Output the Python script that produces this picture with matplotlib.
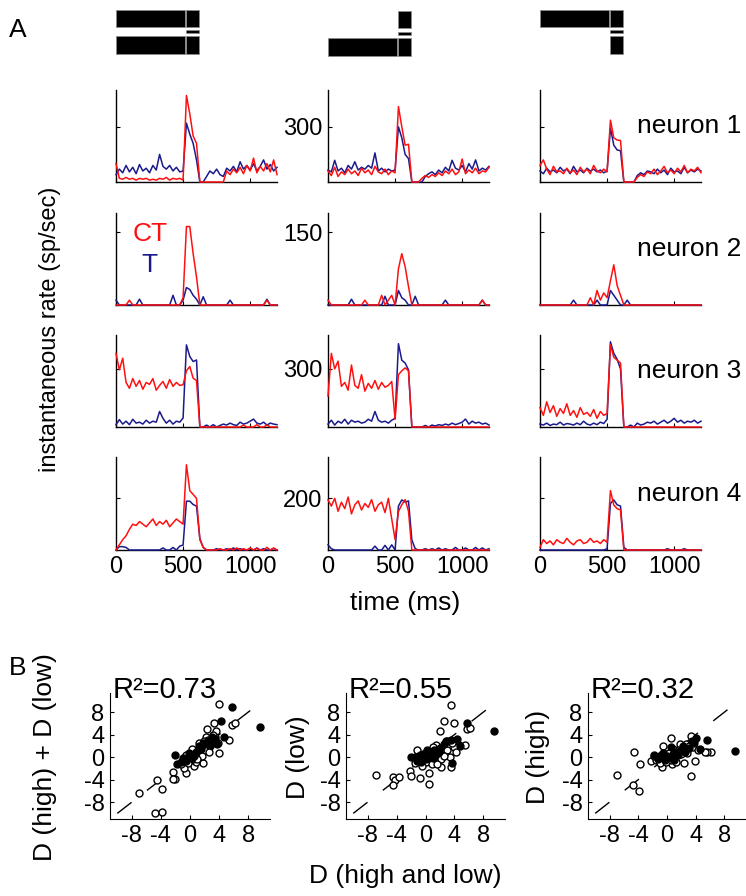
import matplotlib
matplotlib.use("Agg")
import matplotlib.pyplot as plt
import numpy as np
from matplotlib.patches import Rectangle

plt.rcParams['font.family'] = ['Liberation Sans', 'DejaVu Sans']
plt.rcParams['axes.unicode_minus'] = False

# ---- data ----
time_ms = np.arange(0, 1201, 25)

# neuron 1 (CT = red, T = blue), columns 1..3
n1_ct_c1 = [100, 20, 15, 25, 15, 20, 10, 20, 15, 20, 10, 15, 10, 20, 15, 25, 10, 20, 15, 20, 10,
            470, 370, 250, 210, 0, 0, 0, 0, 0, 0, 0, 0,
            60, 40, 70, 50, 80, 45, 90, 60, 130, 50, 85, 60, 100, 55, 120, 40]
n1_t_c1 = [40, 70, 50, 90, 55, 80, 45, 95, 60, 75, 50, 90, 65, 150, 85, 70, 90, 60, 80, 55, 60,
           320, 260, 210, 120, 0, 0, 30, 60, 45, 70, 40, 30,
           75, 60, 85, 55, 110, 70, 90, 65, 100, 60, 85, 120, 70, 95, 60, 80]
n1_ct_c2 = [60, 35, 80, 30, 55, 40, 70, 45, 60, 35, 75, 50, 65, 40, 85, 55, 45, 70, 40, 60, 50,
            410, 300, 200, 205, 0, 0, 0, 20, 35, 25, 40, 30,
            50, 35, 60, 45, 70, 40, 55, 125, 45, 65, 50, 75, 45, 60, 55, 80]
n1_t_c2 = [65, 55, 118, 60, 75, 50, 90, 70, 110, 65, 80, 70, 90, 75, 158, 60, 75, 55, 70, 60, 65,
           300, 240, 150, 127, 0, 0, 0, 0, 30, 45, 55, 40,
           65, 50, 80, 60, 118, 75, 65, 90, 55, 100, 70, 120, 60, 75, 65, 85]
n1_ct_c3 = [90, 120, 70, 40, 85, 55, 60, 45, 75, 50, 65, 40, 80, 55, 70, 45, 90, 60, 50, 70, 55,
            336, 240, 228, 225, 0, 0, 0, 0, 25, 40, 30, 55,
            45, 70, 40, 60, 85, 50, 65, 45, 75, 55, 90, 50, 70, 60, 80, 50]
n1_t_c3 = [60, 45, 75, 55, 65, 50, 80, 60, 70, 45, 85, 55, 65, 50, 75, 60, 70, 55, 65, 50, 60,
           293, 200, 174, 170, 0, 0, 0, 0, 35, 50, 40, 60,
           55, 45, 70, 50, 65, 40, 75, 55, 60, 45, 80, 50, 65, 55, 70, 60]

# neuron 2
n2_ct_c1 = [0, 0, 0, 0, 10, 0, 0, 0, 0, 0, 0, 0, 0, 0, 0, 0, 0, 0, 0, 0, 15,
            162, 162, 106, 58, 0, 0, 0, 0, 0, 0, 0, 0,
            0, 0, 0, 0, 0, 0, 0, 0, 0, 0, 0, 0, 10, 0, 0, 0]
n2_t_c1 = [10, 0, 0, 0, 0, 0, 0, 12, 0, 0, 0, 0, 0, 0, 0, 0, 0, 20, 0, 0, 10,
           36, 32, 20, 12, 0, 17, 0, 0, 0, 0, 0, 0,
           0, 10, 0, 0, 0, 0, 0, 0, 0, 0, 0, 0, 12, 0, 0, 0]
n2_ct_c2 = [10, 0, 0, 0, 0, 0, 0, 0, 0, 0, 0, 10, 0, 0, 0, 0, 20, 0, 10, 20, 0,
            75, 106, 79, 38, 0, 0, 0, 0, 0, 0, 0, 0,
            0, 0, 0, 0, 0, 0, 0, 0, 0, 0, 0, 0, 0, 10, 0, 0]
n2_t_c2 = [0, 0, 0, 0, 0, 0, 0, 12, 0, 0, 0, 0, 0, 0, 0, 0, 0, 18, 0, 0, 0,
           30, 15, 10, 0, 0, 18, 0, 0, 0, 0, 0, 0,
           0, 0, 10, 0, 0, 0, 0, 0, 0, 0, 0, 0, 0, 10, 0, 0]
n2_ct_c3 = [0, 0, 0, 0, 0, 0, 0, 0, 0, 0, 0, 0, 0, 0, 0, 15, 0, 30, 10, 25, 15,
            50, 83, 40, 20, 0, 0, 0, 0, 0, 0, 0, 0,
            0, 0, 0, 0, 0, 0, 0, 0, 0, 0, 0, 0, 0, 0, 0, 0]
n2_t_c3 = [0, 0, 0, 0, 0, 0, 0, 0, 0, 0, 10, 0, 0, 0, 0, 0, 0, 10, 0, 0, 0,
           30, 20, 10, 0, 0, 10, 0, 0, 0, 0, 0, 0,
           0, 0, 0, 0, 0, 0, 0, 0, 0, 0, 0, 0, 0, 0, 0, 0]

# neuron 3
n3_ct_c1 = [380, 295, 355, 230, 200, 250, 210, 240, 195, 230, 220, 250, 190, 215, 235, 200, 245, 210, 230, 215, 218,
            290, 312, 252, 240, 0, 0, 0, 0, 0, 0, 0, 0,
            0, 0, 0, 0, 0, 10, 0, 0, 0, 12, 0, 0, 10, 0, 0, 0]
n3_t_c1 = [12, 38, 15, 30, 12, 40, 20, 25, 15, 35, 20, 30, 25, 80, 45, 20, 35, 15, 30, 25, 46,
           424, 364, 338, 346, 0, 0, 10, 0, 12, 0, 8, 15,
           10, 20, 12, 8, 25, 15, 20, 30, 41, 20, 15, 25, 10, 20, 15, 12]
n3_ct_c2 = [160, 380, 300, 340, 210, 230, 190, 320, 215, 200, 270, 185, 225, 200, 240, 195, 230, 205, 215, 235, 40,
            270, 290, 305, 290, 0, 0, 0, 0, 0, 0, 0, 0,
            0, 0, 0, 0, 0, 0, 0, 0, 0, 0, 0, 0, 0, 0, 0, 0]
n3_t_c2 = [15, 35, 10, 30, 20, 40, 15, 35, 25, 30, 20, 25, 40, 30, 80, 35, 25, 30, 20, 35, 45,
           430, 345, 330, 295, 0, 0, 0, 0, 8, 0, 10, 5,
           12, 8, 15, 10, 20, 12, 18, 25, 41, 15, 30, 20, 25, 15, 20, 10]
n3_ct_c3 = [100, 60, 130, 75, 110, 55, 95, 70, 120, 60, 85, 50, 100, 65, 75, 55, 90, 45, 80, 60, 70,
            425, 360, 345, 330, 0, 0, 0, 0, 0, 0, 0, 0,
            0, 0, 0, 0, 0, 0, 0, 0, 0, 0, 0, 0, 0, 0, 0, 0]
n3_t_c3 = [15, 10, 20, 8, 15, 12, 25, 10, 18, 15, 10, 20, 12, 30, 15, 10, 20, 12, 25, 18, 40,
           440, 380, 350, 300, 0, 0, 10, 0, 20, 10, 15, 25,
           20, 30, 15, 25, 35, 20, 30, 45, 25, 35, 20, 30, 25, 35, 20, 30]

# neuron 4
n4_ct_c1 = [0, 20, 40, 55, 80, 100, 95, 110, 100, 90, 105, 120, 95, 110, 100, 115, 90, 105, 120, 110, 100,
            330, 230, 215, 200, 40, 10, 0, 0, 0, 0, 5, 0,
            0, 5, 0, 8, 0, 5, 0, 8, 0, 6, 0, 0, 10, 0, 8, 0]
n4_t_c1 = [0, 13, 13, 10, 0, 0, 0, 0, 0, 0, 0, 0, 0, 0, 8, 0, 0, 10, 0, 15, 19,
           189, 189, 176, 170, 44, 10, 0, 0, 0, 5, 0, 0,
           5, 0, 8, 0, 5, 0, 0, 6, 0, 8, 0, 5, 0, 0, 6, 0]
n4_ct_c2 = [194, 170, 200, 150, 185, 160, 205, 140, 175, 190, 155, 180, 165, 195, 150, 175, 185, 145, 200, 120, 40,
            149, 175, 195, 150, 0, 0, 0, 0, 0, 0, 0, 0,
            0, 0, 0, 0, 0, 0, 0, 0, 0, 0, 0, 0, 0, 0, 0, 0]
n4_t_c2 = [20, 5, 0, 0, 0, 0, 0, 0, 0, 0, 0, 0, 0, 0, 15, 0, 0, 18, 0, 20, 0,
           170, 194, 185, 190, 39, 5, 0, 0, 5, 0, 5, 0,
           8, 0, 5, 0, 0, 10, 0, 0, 8, 0, 0, 10, 0, 8, 0, 5]
n4_ct_c3 = [10, 40, 25, 35, 20, 40, 30, 25, 45, 30, 20, 35, 40, 25, 30, 45, 30, 35, 25, 40, 30,
            230, 174, 160, 155, 0, 0, 0, 0, 0, 0, 0, 0,
            0, 0, 0, 0, 0, 0, 0, 0, 0, 0, 0, 0, 0, 0, 0, 0]
n4_t_c3 = [0, 0, 0, 0, 0, 0, 0, 0, 0, 0, 0, 0, 0, 0, 0, 0, 0, 0, 0, 0, 5,
           180, 194, 175, 170, 10, 0, 0, 0, 0, 0, 0, 0,
           0, 0, 0, 0, 0, 5, 0, 0, 0, 0, 5, 0, 0, 0, 0, 0]

neuron_names = ["neuron 1", "neuron 2", "neuron 3", "neuron 4"]
row_ymax = [500, 190, 475, 360]
row_ytick = [300, 150, 300, 200]
time_ticks = [0, 500, 1000]

# stimulus timing (ms) for the icons above the columns
stim_long = (0, 515)
stim_short = (522, 615)
# (top row parts, bottom row parts) per column
stim_layout = [(("long", "short"), ("long", "short")),
               (("short",), ("long", "short")),
               (("long", "short"), ("short",))]

# panel B scatter data (open and filled circles)
b1_open_x = [3.95, 5.8, 6.2, 3.3, 2.4, 3.6, 5.3, 4.0, -4.8, -3.9, -7.0, -4.6, -3.9, -2.3, -2.0, -2.3, -0.6, 1.8, 0.6, -0.8,
             -1.0, -0.5, 0.0, 0.5, 1.0, 1.5, 2.0, 2.5, 3.0, 3.5, 2.8, 1.2, 0.8, -0.3, 1.6, 2.2, 3.2, 0.3, -1.3, 2.6, 1.9, 0.4, 3.8, 1.0]
b1_open_y = [9.5, 5.8, 6.0, 6.0, 5.0, 4.7, 3.0, 0.7, -9.9, -9.8, -6.3, -4.1, -5.6, -2.7, -3.8, -3.8, -2.8, -1.1, -1.5, -1.9,
             -0.5, 0.3, -0.2, 0.8, 0.5, 1.8, 1.2, 2.5, 3.0, 3.5, 2.0, 2.5, -0.8, -1.0, 0.2, 3.6, 4.0, 1.5, -1.2, 1.0, 2.9, -0.3, 2.6, -0.4]
b1_fill_x = [5.8, 9.6, 4.3, 4.7, 3.7, -2.1, -1.8, -1.0, -0.5, 0.0, 0.3, 0.8, 1.2, 1.5, 2.0, 2.5, 3.0, -0.2, 0.6, 1.8, 3.4, -1.3, 2.7]
b1_fill_y = [8.9, 5.4, 6.4, 3.5, 2.3, 0.4, -1.2, -0.2, -0.6, 0.3, -0.1, 1.0, 2.0, 1.4, 2.3, 3.0, 3.6, 0.8, 0.2, 2.6, 3.3, -0.8, 2.2]

b2_open_x = [3.5, 2.5, 3.9, 5.8, 6.2, 2.0, -6.8, -4.5, -4.2, -4.5, -3.6, -2.2, -2.0, -0.8, 0.5, 0.5, 2.1, 3.4, 3.5, 5.4, 4.6, 3.9, -1.2,
             -1.5, -0.8, 0.0, 0.6, 1.2, 1.8, 2.4, 2.9, 1.5, -0.2, 0.9, 2.2, 3.0, -0.5, 1.0, 2.6, 0.2, 4.2, 1.6, 3.6]
b2_open_y = [9.3, 6.4, 6.1, 5.0, 5.1, 4.6, -3.1, -3.6, -4.1, -5.0, -3.6, -2.4, -3.4, -3.7, -2.8, -4.7, -1.7, 0.0, -1.8, 2.2, 2.2, 1.8, 1.3,
             -1.0, -0.5, -0.8, 0.8, -0.5, 0.8, 1.5, 2.8, 2.2, 0.6, -1.2, -0.3, 1.2, -1.6, 1.8, 0.2, 0.0, 1.0, -1.3, 2.6]
b2_fill_x = [5.7, 9.5, 4.3, 3.5, 3.0, 3.6, -2.0, -1.5, -0.8, -0.3, 0.2, 0.5, 0.8, 1.2, 1.5, 2.0, 2.5, 0.0, -0.6, 1.0, 4.8, -1.2, 1.8]
b2_fill_y = [6.0, 4.6, 3.3, 3.0, 2.8, -1.1, 0.0, 0.0, 0.3, 0.5, 1.2, 0.6, 0.2, 1.3, 0.5, 1.6, 2.3, -0.3, -0.8, -0.2, 2.0, -0.6, 1.0]

b3_open_x = [-4.6, -3.8, -7.0, -4.8, -3.9, 0.5, 3.3, 3.9, 2.4, 0.7, -0.7, -2.2, 3.4, 6.1, 5.6, 5.3, -0.5, 1.8, 2.6,
             -1.5, -1.0, -0.5, 0.0, 0.5, 1.0, 1.5, 2.0, 2.5, 3.0, 1.2, -0.2, 0.8, 2.8, 3.6, -1.8, 0.3, 4.3]
b3_open_y = [1.0, -1.2, -3.1, -4.9, -6.0, 3.4, -3.3, -0.6, -1.1, -1.2, -1.8, -0.6, 3.8, 1.0, 1.0, 1.0, 2.0, 2.3, 2.4,
             -0.5, -1.0, 0.0, 0.5, -0.5, 0.2, 1.2, 0.5, 1.5, 2.0, -0.8, -0.8, 1.5, 0.8, 1.8, 0.2, 0.8, 1.2]
b3_fill_x = [9.5, 5.6, 4.1, 4.6, 3.5, -1.8, -1.2, -0.8, -0.3, 0.0, 0.4, 0.8, 1.2, 1.6, 2.0, 2.5, 3.0, -0.5, 1.0, 2.2, 0.6, 3.8]
b3_fill_y = [1.1, 3.1, 3.4, 1.5, 2.8, 0.3, -0.3, 0.3, -0.5, 0.2, 0.0, 0.6, 1.0, 0.4, 1.3, 1.0, 1.6, 0.8, -0.5, 2.0, 1.8, 2.5]

r2_labels = ["R\u00b2=0.73", "R\u00b2=0.55", "R\u00b2=0.32"]
b_ylabels = ["D (high) + D (low)", "D (low)", "D (high)"]
b_ticks = [-8, -4, 0, 4, 8]

ct_series = [[n1_ct_c1, n1_ct_c2, n1_ct_c3], [n2_ct_c1, n2_ct_c2, n2_ct_c3],
             [n3_ct_c1, n3_ct_c2, n3_ct_c3], [n4_ct_c1, n4_ct_c2, n4_ct_c3]]
t_series = [[n1_t_c1, n1_t_c2, n1_t_c3], [n2_t_c1, n2_t_c2, n2_t_c3],
            [n3_t_c1, n3_t_c2, n3_t_c3], [n4_t_c1, n4_t_c2, n4_t_c3]]

RED = "#ff1010"
BLUE = "#1a1a8c"
FS = 17

W, H = 746, 896
fig = plt.figure(figsize=(W / 100, H / 100), dpi=100)


def px_axes(left, top, right, bottom):
    return fig.add_axes([left / W, 1 - bottom / H, (right - left) / W, (bottom - top) / H])


def fig_text(x, y, s, **kw):
    return fig.text(x / W, 1 - y / H, s, **kw)


col_left = [116, 328, 540]
col_w = 161
row_box = [(90, 182), (213, 305), (335, 427), (457, 550)]

# ---- panel A: rate traces ----
for r in range(4):
    top, bot = row_box[r]
    for c in range(3):
        ax = px_axes(col_left[c], top, col_left[c] + col_w, bot)
        ax.plot(time_ms, t_series[r][c], color=BLUE, lw=1.1, zorder=3, clip_on=False)
        ax.plot(time_ms, ct_series[r][c], color=RED, lw=1.1, zorder=3, clip_on=False)
        ax.set_xlim(0, 1200)
        ax.set_ylim(0, row_ymax[r])
        for s in ["top", "right"]:
            ax.spines[s].set_visible(False)
        ax.spines["left"].set_linewidth(1)
        ax.spines["bottom"].set_linewidth(1)
        ax.set_xticks(time_ticks)
        ax.set_yticks([row_ytick[r]])
        ax.tick_params(direction="in", length=3, width=0.8, labelsize=FS, pad=4)
        if r < 3:
            ax.set_xticklabels([])
        if c != 1:
            ax.set_yticklabels([])
    fig_text(637, (top + bot) / 2 - 10, neuron_names[r], fontsize=19, va="center", ha="left")

# stimulus icons
for c in range(3):
    bx = px_axes(col_left[c], 5, col_left[c] + col_w, 60)
    bx.set_xlim(0, 1200)
    bx.set_ylim(60, 5)
    bx.axis("off")
    parts_top, parts_bot = stim_layout[c]
    y_top = (11, 28) if c == 1 else (10, 27)
    y_bot = (38, 56) if c == 1 else (36, 54)
    y_dash = (32, 35) if c == 1 else (30, 33)
    for parts, (y0, y1) in [(parts_top, y_top), (parts_bot, y_bot), (("short",), y_dash)]:
        for p in parts:
            x0, x1 = stim_long if p == "long" else stim_short
            bx.add_patch(Rectangle((x0, y0), x1 - x0, y1 - y0, facecolor="black",
                                   edgecolor="0.55", lw=0.5))

fig_text(150, 234, "CT", color=RED, fontsize=19, ha="center", va="center")
fig_text(149, 265, "T", color=BLUE, fontsize=19, ha="center", va="center")
fig_text(50, 329, "instantaneous rate (sp/sec)", fontsize=FS, rotation=90, ha="center", va="center")
fig_text(405, 603, "time (ms)", fontsize=19, ha="center", va="center")
fig_text(18, 30, "A", fontsize=19, ha="center", va="center")
fig_text(18, 668, "B", fontsize=19, ha="center", va="center")

# ---- panel B: scatter plots ----
b_boxes = [(110, 270), (346, 505), (588, 746)]
b_open = [(b1_open_x, b1_open_y), (b2_open_x, b2_open_y), (b3_open_x, b3_open_y)]
b_fill = [(b1_fill_x, b1_fill_y), (b2_fill_x, b2_fill_y), (b3_fill_x, b3_fill_y)]
b_ylab_x = [45, 298, 538]
for i in range(3):
    l, rr = b_boxes[i]
    ax = px_axes(l, 693, rr, 819)
    ax.plot([-10, 10], [-10, 10], color="black", lw=1, linestyle=(0, (13, 14)), zorder=1)
    ox, oy = b_open[i]
    ax.plot(ox, oy, "o", mfc="white", mec="black", ms=5, mew=1, zorder=2, clip_on=False)
    fx, fy = b_fill[i]
    ax.plot(fx, fy, "o", color="black", ms=5, zorder=3, clip_on=False)
    ax.set_xlim(-11, 11)
    ax.set_ylim(-11, 11.4)
    for s in ["top", "right"]:
        ax.spines[s].set_visible(False)
    ax.set_xticks(b_ticks)
    ax.set_yticks(b_ticks)
    ax.tick_params(direction="in", length=3, width=0.8, labelsize=FS, pad=4)
    fig_text(l + 3, 698, r2_labels[i], fontsize=21, ha="left", va="baseline")
    fig_text(b_ylab_x[i], 757, b_ylabels[i], fontsize=19, rotation=90, ha="center", va="center")

fig_text(405, 876, "D (high and low)", fontsize=19, ha="center", va="center")

fig.savefig("out.png", dpi=100)
